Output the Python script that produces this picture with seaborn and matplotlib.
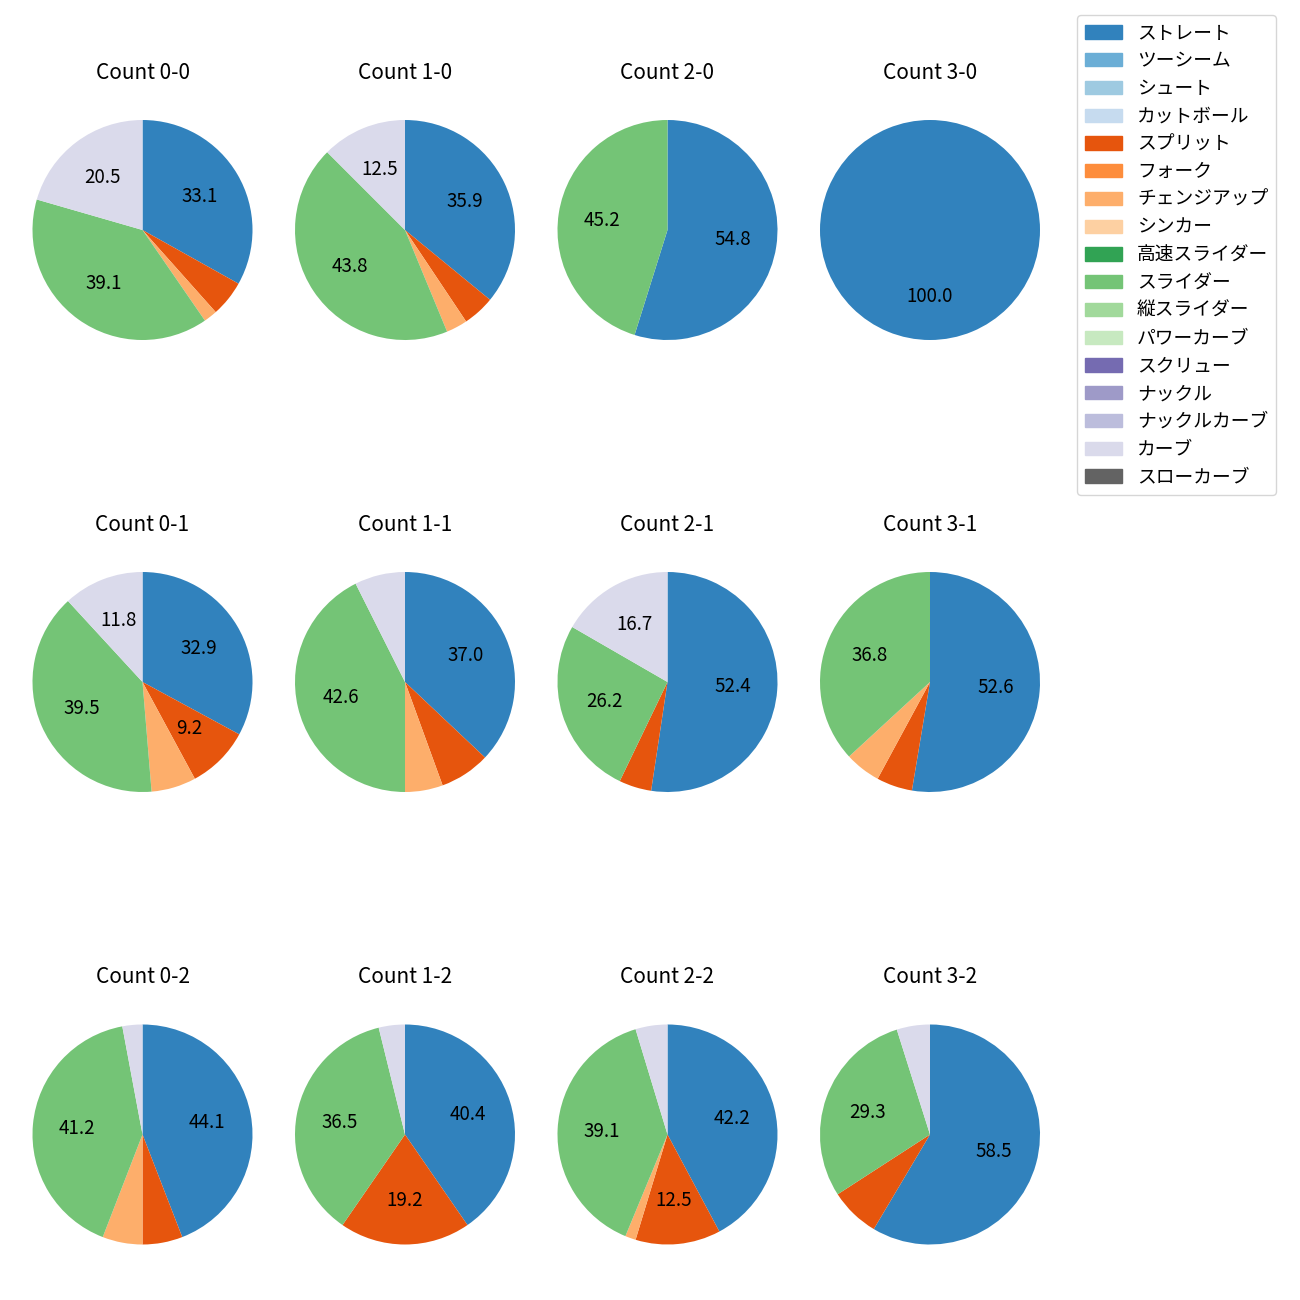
import numpy as np
import seaborn as sns
import matplotlib.pyplot as plt

plt.rcParams["font.family"] = ["Noto Sans CJK JP", "DejaVu Sans"]

pitch_types = [
    "ストレート", "ツーシーム", "シュート", "カットボール", "スプリット", "フォーク",
    "チェンジアップ", "シンカー", "高速スライダー", "スライダー", "縦スライダー",
    "パワーカーブ", "スクリュー", "ナックル", "ナックルカーブ", "カーブ", "スローカーブ",
]
colors = sns.color_palette("tab20c", 20)[:17]

counts = ["0-0", "1-0", "2-0", "3-0",
          "0-1", "1-1", "2-1", "3-1",
          "0-2", "1-2", "2-2", "3-2"]

# pitch counts per ball-strike count (other pitch types are 0)
straight = [50, 23, 17, 5, 25, 20, 22, 10, 15, 21, 27, 24]
split = [8, 3, 0, 0, 7, 4, 2, 1, 2, 10, 8, 3]
changeup = [3, 2, 0, 0, 5, 3, 0, 1, 2, 0, 1, 0]
slider = [59, 28, 14, 0, 30, 23, 11, 7, 14, 19, 25, 12]
curve = [31, 8, 0, 0, 9, 4, 7, 0, 1, 2, 3, 2]

fig = plt.figure(figsize=(13, 13), dpi=100)
col_x = [142.5, 405, 667.5, 930]
row_y = [230, 682, 1134.5]
size = 275

for i, cnt in enumerate(counts):
    r, c = divmod(i, 4)
    ax = fig.add_axes([(col_x[c] - size / 2) / 1300, 1 - (row_y[r] + size / 2) / 1300,
                       size / 1300, size / 1300])
    vals = np.zeros(len(pitch_types))
    vals[pitch_types.index("ストレート")] = straight[i]
    vals[pitch_types.index("スプリット")] = split[i]
    vals[pitch_types.index("チェンジアップ")] = changeup[i]
    vals[pitch_types.index("スライダー")] = slider[i]
    vals[pitch_types.index("カーブ")] = curve[i]
    mask = vals > 0
    ax.pie(
        vals[mask],
        colors=[col for col, m in zip(colors, mask) if m],
        startangle=90,
        counterclock=False,
        autopct=lambda p: f"{p:.1f}" if p >= 8 else "",
        textprops={"fontsize": 13.5},
    )
    ax.set_title(f"Count {cnt}", fontsize=15, pad=10)

handles = [plt.Rectangle((0, 0), 1, 1, color=col) for col in colors]
fig.legend(handles, pitch_types, loc="upper left",
           bbox_to_anchor=(1077 / 1300, 1 - 15 / 1300), borderaxespad=0,
           fontsize=13.5, labelspacing=0.36)
plt.savefig("out.png", dpi=100)
